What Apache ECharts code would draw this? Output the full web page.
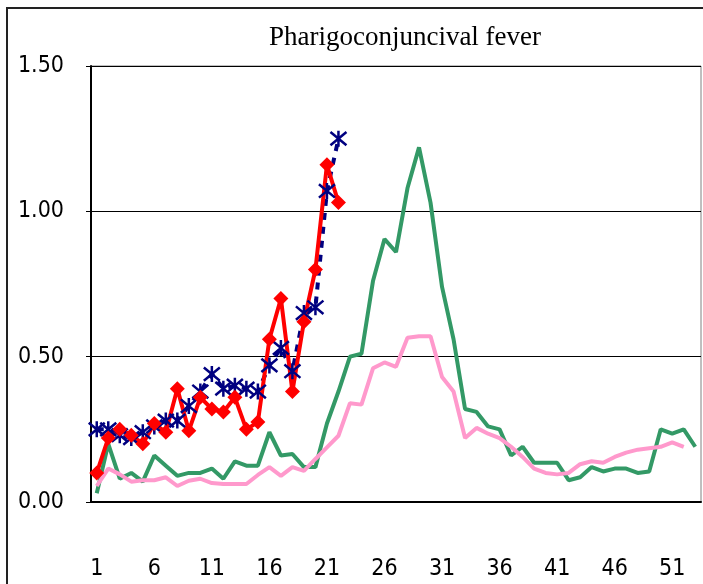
<!DOCTYPE html>
<html>
<head>
<meta charset="UTF-8">
<title>Pharigoconjuncival fever</title>
<script src="https://cdn.jsdelivr.net/npm/echarts@6/dist/echarts.min.js"></script>
<style>
  body { margin: 0; background: #fff; }
  #chart { width: 703px; height: 584px; }
</style>
</head>
<body>
<div id="chart"></div>
<script>
  // week numbers on the category axis
  const weeks = [
    '1','2','3','4','5','6','7','8','9','10','11','12','13','14','15','16','17','18',
    '19','20','21','22','23','24','25','26','27','28','29','30','31','32','33','34','35','36',
    '37','38','39','40','41','42','43','44','45','46','47','48','49','50','51','52','53'
  ];

  // green line (full year)
  const greenValues = [
    0.03, 0.20, 0.08, 0.10, 0.07, 0.16, 0.125, 0.09, 0.10, 0.10,
    0.115, 0.08, 0.14, 0.125, 0.125, 0.24, 0.16, 0.165, 0.12, 0.12,
    0.27, 0.38, 0.50, 0.51, 0.76, 0.905, 0.86, 1.08, 1.22, 1.03,
    0.74, 0.56, 0.32, 0.31, 0.26, 0.25, 0.16, 0.19, 0.135, 0.135,
    0.135, 0.075, 0.085, 0.12, 0.105, 0.115, 0.115, 0.10, 0.105, 0.25,
    0.235, 0.25, 0.19
  ];

  // pink line
  const pinkValues = [
    0.055, 0.115, 0.095, 0.07, 0.075, 0.075, 0.085, 0.055, 0.073, 0.08,
    0.065, 0.062, 0.062, 0.062, 0.093, 0.12, 0.09, 0.12, 0.107, 0.148,
    0.188, 0.228, 0.34, 0.335, 0.46, 0.48, 0.465, 0.565, 0.57, 0.57,
    0.43, 0.38, 0.22, 0.255, 0.235, 0.22, 0.19, 0.155, 0.115, 0.10,
    0.095, 0.10, 0.13, 0.14, 0.135, 0.155, 0.17, 0.18, 0.185, 0.19,
    0.205, 0.19
  ];

  // navy dashed line with asterisks
  const navyValues = [
    0.25, 0.25, 0.23, 0.22, 0.24, 0.26, 0.28, 0.28, 0.33, 0.38,
    0.44, 0.39, 0.40, 0.39, 0.38, 0.47, 0.53, 0.45, 0.65, 0.67,
    1.07, 1.25
  ];

  // red line with diamonds
  const redValues = [
    0.10, 0.22, 0.25, 0.23, 0.20, 0.27, 0.24, 0.39, 0.245, 0.36,
    0.32, 0.31, 0.36, 0.25, 0.275, 0.56, 0.70, 0.38, 0.62, 0.80,
    1.16, 1.03
  ];

  const yTicks = [0, 0.5, 1.0, 1.5];

  const chart = echarts.init(document.getElementById('chart'));
  const labelFont = '"DejaVu Sans Condensed", "Liberation Sans Narrow", "Liberation Sans", sans-serif';

  chart.setOption({
    animation: false,
    title: {
      text: 'Pharigoconjuncival fever',
      left: 400,
      top: 19,
      textAlign: 'center',
      textStyle: {
        fontFamily: '"Liberation Serif", "DejaVu Serif", serif',
        fontWeight: 'normal',
        fontSize: 27,
        color: '#000'
      }
    },
    graphic: [{
      type: 'rect',
      shape: { x: 7, y: 8, width: 760, height: 640 },
      style: { fill: 'none', stroke: '#222', lineWidth: 2 },
      silent: true
    }],
    grid: {
      left: 91, right: 2, top: 66, bottom: 82,
      show: true,
      borderColor: '#808080',
      borderWidth: 1,
      backgroundColor: 'transparent'
    },
    xAxis: {
      type: 'category',
      data: weeks,
      boundaryGap: true,
      axisLine: { lineStyle: { color: '#000', width: 2 } },
      axisTick: { inside: true, length: 8, interval: 4, lineStyle: { color: '#000' } },
      axisLabel: {
        interval: 4,
        margin: 56,
        fontFamily: labelFont,
        fontSize: 23,
        color: '#000'
      },
      splitLine: { show: false }
    },
    yAxis: {
      type: 'value',
      min: yTicks[0],
      max: yTicks[yTicks.length - 1],
      interval: 0.5,
      axisLine: { show: true, lineStyle: { color: '#000', width: 2 } },
      axisTick: { show: true, length: 5, lineStyle: { color: '#000' } },
      axisLabel: {
        margin: 27,
        fontFamily: labelFont,
        fontSize: 23,
        color: '#000',
        formatter: v => v.toFixed(2)
      },
      splitLine: { lineStyle: { color: '#000', width: 1 } }
    },
    series: [
      {
        type: 'line',
        data: greenValues,
        symbol: 'none',
        lineStyle: { color: '#339966', width: 4 },
        itemStyle: { color: '#339966' }
      },
      {
        type: 'line',
        data: pinkValues,
        symbol: 'none',
        lineStyle: { color: '#FF99CC', width: 4 },
        itemStyle: { color: '#FF99CC' }
      },
      {
        type: 'line',
        data: navyValues,
        symbol: 'path://M0,0L10,10M10,0L0,10M5,-1L5,11',
        symbolSize: 16,
        showAllSymbol: true,
        lineStyle: { color: '#000080', width: 4, type: [7, 7] },
        itemStyle: { color: '#000080', borderColor: '#000080', borderWidth: 2.5 }
      },
      {
        type: 'line',
        data: redValues,
        symbol: 'diamond',
        symbolSize: 15,
        showAllSymbol: true,
        lineStyle: { color: '#FF0000', width: 4 },
        itemStyle: { color: '#FF0000' }
      }
    ]
  });
</script>
</body>
</html>
